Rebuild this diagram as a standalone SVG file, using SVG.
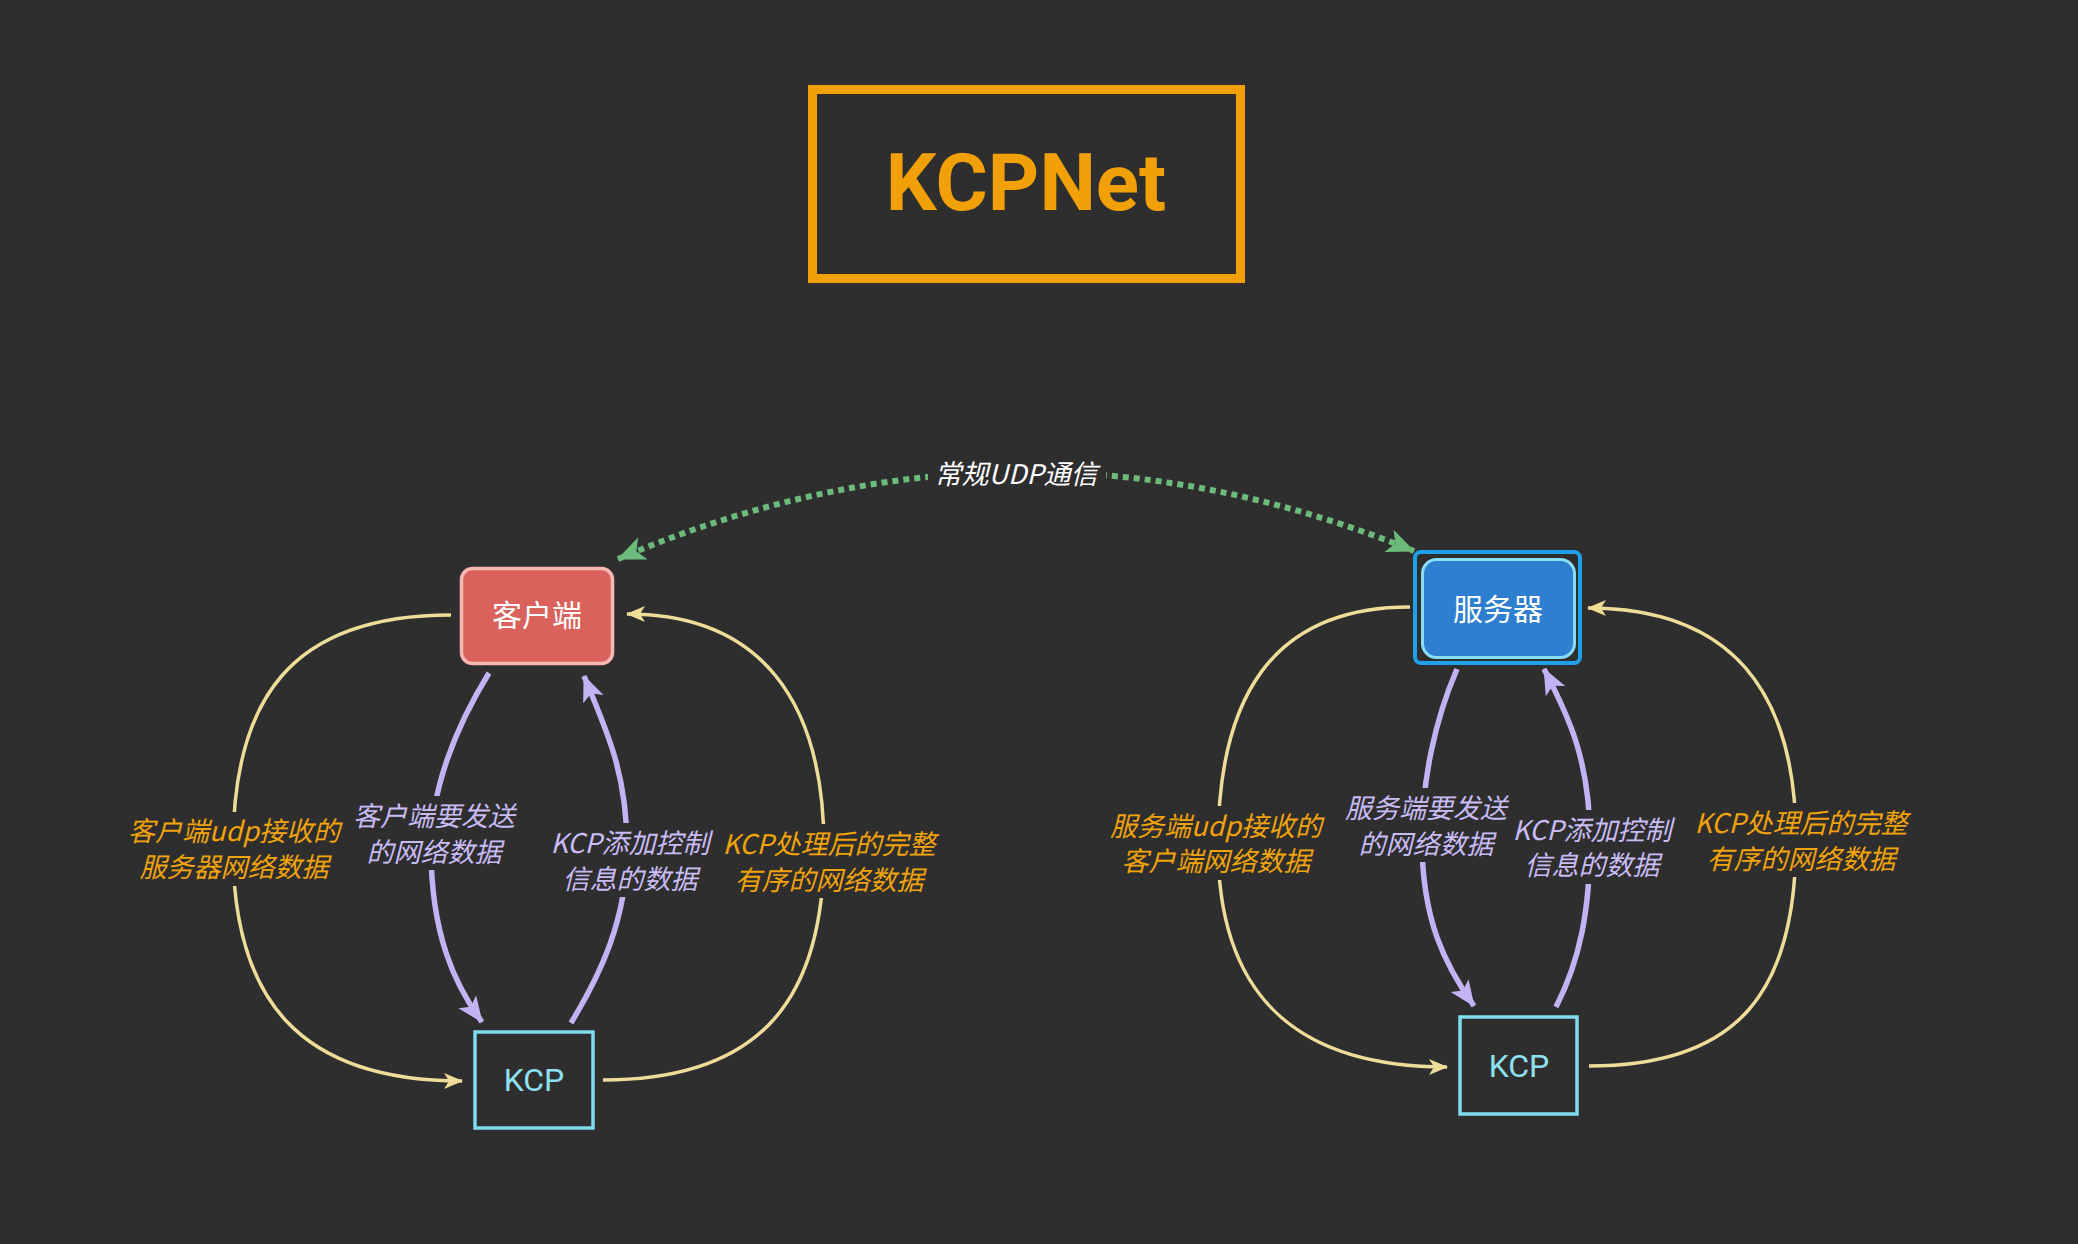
<svg xmlns="http://www.w3.org/2000/svg" width="2078" height="1244" viewBox="0 0 2078 1244">
<style>
.cjk{font-family:"Noto Sans CJK SC","Liberation Sans",sans-serif;}
.lbl{font-size:27px;font-style:italic;text-anchor:middle;}
.or{fill:#F0A30A;}
.lv{fill:#C9BCF5;}
.bgr{fill:#2F2E2E;}
.yel{fill:none;stroke:#EEDD99;stroke-width:3.5;marker-end:url(#ay);}
.pur{fill:none;stroke:#C3B2F4;stroke-width:5.5;marker-end:url(#ap);}
.kcp{fill:none;stroke:#7FDBEE;stroke-width:3.5;}
.kt{font-family:Roboto,"Liberation Sans",sans-serif;font-size:32px;fill:#8FE0F0;text-anchor:middle;}
</style>
<defs>
<marker id="ay" markerUnits="userSpaceOnUse" markerWidth="22" markerHeight="18" refX="18" refY="8" orient="auto">
<path d="M0,0 L19,8 L0,16 L5,8 z" fill="#EEDD99"/>
</marker>
<marker id="ap" markerUnits="userSpaceOnUse" markerWidth="30" markerHeight="24" refX="25" refY="11" orient="auto">
<path d="M0,0 L26,11 L0,22 L6,11 z" fill="#C3B2F4"/>
</marker>
<marker id="ag" markerUnits="userSpaceOnUse" markerWidth="32" markerHeight="26" refX="27" refY="12" orient="auto-start-reverse">
<path d="M0,0 L28,12 L0,24 L7,12 z" fill="#6DBB7C"/>
</marker>
</defs>
<rect x="0" y="0" width="2078" height="1244" fill="#2F2E2E"/>

<g id="title">
<rect x="812.5" y="89.5" width="428" height="189" fill="none" stroke="#F2A007" stroke-width="9"/>
<text x="1026" y="210" font-family="Roboto,'Liberation Sans',sans-serif" font-weight="bold" font-size="80" fill="#F2A007" text-anchor="middle">KCPNet</text>
</g>

<g id="connectors">
<path d="M618,559 Q1016,389 1414,551" fill="none" stroke="#6DBB7C" stroke-width="6" stroke-dasharray="6 5" marker-start="url(#ag)" marker-end="url(#ag)"/>
<path class="yel" d="M451,615 C290,615 233,700 233,848 C233,1000 300,1081 462,1081"/>
<path class="yel" d="M603,1080 C760,1080 824,1000 824,848 C824,700 760,614 627,614"/>
<path class="pur" d="M489,673 C455,728 431,790 431,848 C431,935 455,985 482,1022"/>
<path class="pur" d="M571,1023 C600,975 627,920 627,848 C627,770 605,728 584,676"/>
<path class="yel" d="M1410,607 C1270,607 1218,700 1218,845 C1218,990 1290,1067 1447,1067"/>
<path class="yel" d="M1589,1066 C1740,1066 1796,990 1796,840 C1796,690 1730,608 1588,608"/>
<path class="pur" d="M1457,669 C1435,720 1422,780 1422,840 C1422,920 1445,965 1474,1006"/>
<path class="pur" d="M1556,1007 C1580,960 1590,910 1590,840 C1590,760 1568,715 1544,669"/>
</g>

<g id="udp-label">
<rect class="bgr" x="928" y="455" width="178" height="38"/>
<text class="cjk" x="1016" y="484" font-size="27" font-style="italic" fill="#FFFFFF" text-anchor="middle">常规UDP通信</text>
</g>

<g id="client">
<rect x="461.5" y="568.5" width="151" height="95" rx="11" fill="#D9625C" stroke="#F6B8B0" stroke-width="3.5"/>
<text class="cjk" x="537" y="626" font-size="30" fill="#FFFFFF" text-anchor="middle">客户端</text>
</g>

<g id="client-kcp">
<rect class="kcp" x="475" y="1032" width="118" height="96"/>
<text class="kt" x="534" y="1091">KCP</text>
</g>

<g id="server">
<rect x="1415" y="552" width="165" height="111" rx="6" fill="none" stroke="#1EA0EA" stroke-width="4"/>
<rect x="1422.5" y="559.5" width="152" height="98" rx="14" fill="#2E7FCF" stroke="#88DDF7" stroke-width="3"/>
<text class="cjk" x="1498" y="620" font-size="30" fill="#FFFFFF" text-anchor="middle">服务器</text>
</g>

<g id="server-kcp">
<rect class="kcp" x="1460" y="1017" width="117" height="97"/>
<text class="kt" x="1519" y="1077">KCP</text>
</g>

<g id="labels">
<g id="lbl-client-recv">
<rect class="bgr" x="126" y="812" width="218" height="74"/>
<text class="cjk lbl or" x="234"><tspan x="234" y="841">客户端udp接收的</tspan><tspan x="234" y="877">服务器网络数据</tspan></text>
</g>
<g id="lbl-client-send">
<rect class="bgr" x="348" y="796" width="170" height="74"/>
<text class="cjk lbl lv" x="434"><tspan x="434" y="826">客户端要发送</tspan><tspan x="434" y="862">的网络数据</tspan></text>
</g>
<g id="lbl-client-kcpadd">
<rect class="bgr" x="552" y="823" width="158" height="74"/>
<text class="cjk lbl lv" x="630"><tspan x="630" y="853">KCP添加控制</tspan><tspan x="630" y="889">信息的数据</tspan></text>
</g>
<g id="lbl-client-kcpout">
<rect class="bgr" x="722" y="824" width="214" height="74"/>
<text class="cjk lbl or" x="829"><tspan x="829" y="854">KCP处理后的完整</tspan><tspan x="829" y="890">有序的网络数据</tspan></text>
</g>
<g id="lbl-server-recv">
<rect class="bgr" x="1106" y="806" width="218" height="74"/>
<text class="cjk lbl or" x="1216"><tspan x="1216" y="836">服务端udp接收的</tspan><tspan x="1216" y="871">客户端网络数据</tspan></text>
</g>
<g id="lbl-server-send">
<rect class="bgr" x="1342" y="788" width="170" height="74"/>
<text class="cjk lbl lv" x="1426"><tspan x="1426" y="818">服务端要发送</tspan><tspan x="1426" y="854">的网络数据</tspan></text>
</g>
<g id="lbl-server-kcpadd">
<rect class="bgr" x="1514" y="810" width="158" height="74"/>
<text class="cjk lbl lv" x="1592"><tspan x="1592" y="840">KCP添加控制</tspan><tspan x="1592" y="875">信息的数据</tspan></text>
</g>
<g id="lbl-server-kcpout">
<rect class="bgr" x="1694" y="803" width="214" height="74"/>
<text class="cjk lbl or" x="1801"><tspan x="1801" y="833">KCP处理后的完整</tspan><tspan x="1801" y="869">有序的网络数据</tspan></text>
</g>
</g>
</svg>
